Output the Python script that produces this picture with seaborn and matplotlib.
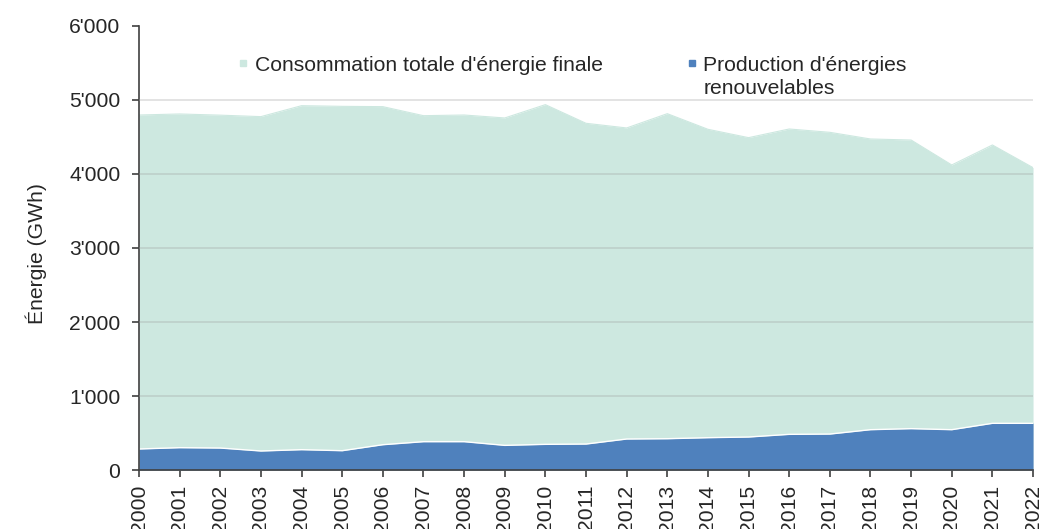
import matplotlib
matplotlib.use("Agg")
import matplotlib.pyplot as plt
from matplotlib.ticker import FuncFormatter, MultipleLocator
from matplotlib.lines import Line2D
import seaborn as sns
import pandas as pd

years = list(range(2000, 2023))
consommation = [4797, 4811, 4795, 4775, 4923, 4914, 4910, 4788, 4797, 4757, 4937, 4685,
                4622, 4815, 4604, 4491, 4608, 4563, 4473, 4459, 4122, 4392, 4086]
renouvelables = [284, 302, 297, 257, 275, 261, 342, 383, 383, 333, 347, 351,
                 419, 423, 437, 446, 482, 486, 545, 559, 545, 631, 631]
labels = ["Consommation totale d'énergie finale", "Production d'énergies", "renouvelables"]

df = pd.DataFrame({"year": years, "cons": consommation, "ren": renouvelables})

sns.set_style("ticks")
plt.rcParams['font.family'] = ['Liberation Sans', 'DejaVu Sans']

teal = "#cde8e0"
blue = "#4f81bd"
txt = "#262626"
FS = 15.2

fig = plt.figure(figsize=(10.42, 5.29), dpi=100)
ax = fig.add_axes([0.1334, 0.1115, 0.858, 0.8394])

ax.fill_between(df["year"], 0, df["cons"], color=teal, lw=0, zorder=1)
sns.lineplot(data=df, x="year", y="cons", ax=ax, color=teal, lw=0.8, zorder=1.5)
ax.fill_between(df["year"], 0, df["ren"], color=blue, lw=0, zorder=2)
sns.lineplot(data=df, x="year", y="ren", ax=ax, color="white", lw=1.0, zorder=2.5)

for yv in [1000, 2000, 3000, 4000, 5000]:
    ax.axhline(yv, color="#a0a0a0", alpha=0.35, lw=1.2, zorder=3)

ax.set_xlim(2000, 2022)
ax.set_ylim(0, 6000)
ax.set_xticks(years)
ax.set_xticklabels([str(y) for y in years], rotation=90, fontsize=FS, color=txt)
ax.yaxis.set_major_locator(MultipleLocator(1000))
ax.yaxis.set_major_formatter(FuncFormatter(lambda v, p: f"{v:,.0f}".replace(",", "'")))
ax.tick_params(axis="both", length=5, width=1.2, color="#404040", labelsize=FS, labelcolor=txt)
ax.tick_params(axis="y", pad=8.5)
ax.tick_params(axis="x", pad=5.5)
ax.set_xlabel("")
ax.set_ylabel("Énergie (GWh)", fontsize=FS, color=txt, labelpad=16, y=0.487)

sns.despine(ax=ax)
for s in ["left", "bottom"]:
    ax.spines[s].set_color("#404040")
    ax.spines[s].set_linewidth(1.2)

blank = Line2D([], [], ls="", marker="")
handles = [Line2D([], [], marker="s", ls="", color=teal, markersize=5), blank,
           Line2D([], [], marker="s", ls="", color=blue, markersize=5), blank]
ax.legend(handles, [labels[0], "", labels[1], labels[2]], ncol=2, loc="upper left",
          bbox_to_anchor=(0.0885, 0.976), frameon=False, fontsize=FS,
          handlelength=0.6, handletextpad=0.25, columnspacing=3.9, labelspacing=0.2,
          labelcolor=txt)

fig.savefig("out.png", dpi=100)
